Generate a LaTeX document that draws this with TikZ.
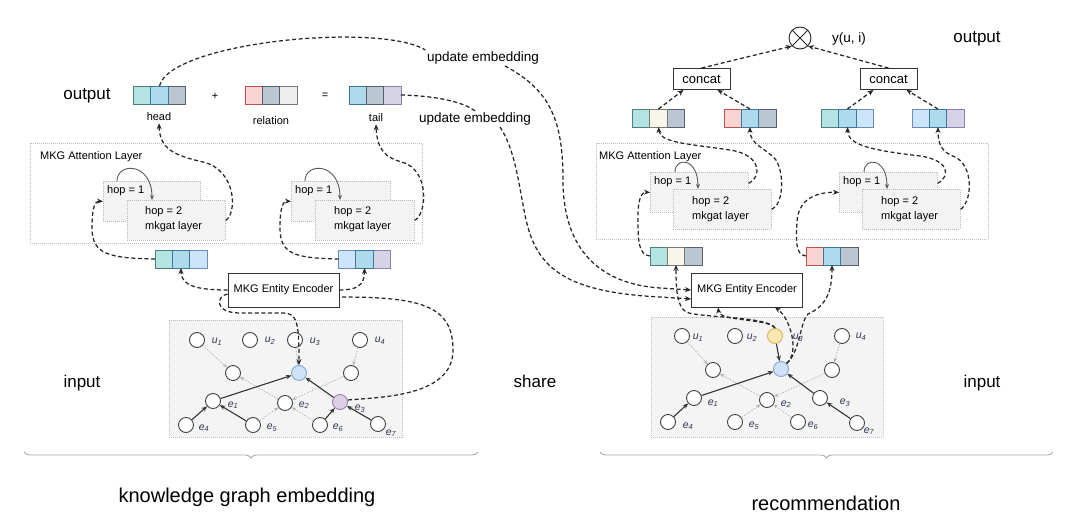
\documentclass[tikz,border=0pt]{standalone}
\usepackage{fontspec}
\setmainfont{Liberation Sans}
\usetikzlibrary{arrows.meta,decorations.pathreplacing,calc}
\definecolor{fteal}{HTML}{B4E4E1}\definecolor{bteal}{HTML}{4F7F7C}
\definecolor{flb}{HTML}{ADDAEC}\definecolor{blb}{HTML}{3E7896}
\definecolor{fgb}{HTML}{BAC7D2}\definecolor{bgb}{HTML}{55606B}
\definecolor{fpk}{HTML}{F8D4D2}\definecolor{bpk}{HTML}{C0504D}
\definecolor{flg}{HTML}{EEEEEE}\definecolor{blg}{HTML}{777777}
\definecolor{flav}{HTML}{D6D2E7}\definecolor{blav}{HTML}{8A82AE}
\definecolor{fvlb}{HTML}{CDE5FB}\definecolor{bvlb}{HTML}{6C8DB4}
\definecolor{fcr}{HTML}{F8F5EA}\definecolor{bcr}{HTML}{7A7A70}
\definecolor{boxgray}{HTML}{F3F3F3}
\definecolor{graphbg}{HTML}{F4F4F4}
\definecolor{lblc}{HTML}{2E3550}
\definecolor{fyel}{HTML}{FBE8B0}\definecolor{byel}{HTML}{D9B25A}
\definecolor{fblue}{HTML}{CFE2F8}\definecolor{bblue}{HTML}{7FA6D6}
\definecolor{fpur}{HTML}{DCD0E6}\definecolor{bpur}{HTML}{9A82B0}
\newcommand{\emb}[6]{%
 \node[cell,#4] (#1a) at ({#2-17.3},#3) {};
 \node[cell,#6] (#1c) at ({#2+17.3},#3) {};
 \node[cell,#5] (#1) at (#2,#3) {};}
\begin{document}
\begin{tikzpicture}[x=1pt,y=-1pt,
 cell/.style={draw, line width=0.9, minimum width=17.3, minimum height=18, inner sep=0, outer sep=0},
 ct/.style={fill=fteal, draw=bteal}, clb/.style={fill=flb, draw=blb},
 cgb/.style={fill=fgb, draw=bgb}, cpk/.style={fill=fpk, draw=bpk},
 clg/.style={fill=flg, draw=blg}, clav/.style={fill=flav, draw=blav},
 cvlb/.style={fill=fvlb, draw=bvlb}, ccr/.style={fill=fcr, draw=bcr},
 bigtxt/.style={font=\fontsize{17}{20}\selectfont, inner sep=1},
 midtxt/.style={font=\fontsize{13.5}{16}\selectfont, inner sep=1},
 smtxt/.style={font=\fontsize{11}{13}\selectfont, inner sep=2},
 titletxt/.style={font=\fontsize{20}{24}\selectfont, inner sep=1},
 uplbl/.style={font=\fontsize{13.5}{16}\selectfont, fill=white, inner sep=1.5},
 hopbox/.style={draw=gray!55, fill=boxgray, dash pattern=on 1pt off 1pt, line width=0.7, inner sep=0, anchor=north west},
 attbox/.style={draw=gray!50, dash pattern=on 1pt off 1pt, line width=0.6, inner sep=0, anchor=north west},
 gbox/.style={fill=graphbg, draw=gray!50, dash pattern=on 1pt off 1pt, line width=0.6, inner sep=0, anchor=north west},
 encbox/.style={draw=black!80, line width=0.9, fill=white, minimum width=111, minimum height=34, font=\fontsize{11}{13}\selectfont, inner sep=0},
 concatbox/.style={draw=black!80, line width=0.9, fill=white, minimum width=57, minimum height=21, font=\fontsize{13}{15}\selectfont, inner sep=0},
 gn/.style={circle, draw=black!75, line width=0.9, fill=white, minimum size=15, inner sep=0},
 glbl/.style={font=\fontsize{10.5}{12}\selectfont\itshape, text=lblc, inner sep=0},
 sedge/.style={line width=1.1, draw=black!80, -{Stealth[length=5.5pt,width=4.5pt]}},
 dedge/.style={line width=0.7, draw=gray!60, dash pattern=on 1.5pt off 1.5pt, -{Stealth[length=4.5pt,width=3.5pt]}},
 conn/.style={line width=1.25, draw=black!85, dash pattern=on 4pt off 2.6pt, -{Stealth[length=6pt,width=5pt]}},
 plainconn/.style={line width=1.25, draw=black!85, dash pattern=on 4pt off 2.6pt},
 loopar/.style={line width=0.9, draw=black!65, -{Stealth[length=5pt,width=4pt]}},
 bracest/.style={draw=gray!70, line width=0.8, decorate, decoration={brace, mirror, amplitude=6pt}}
]
\useasboundingbox (0,0) rectangle (1080,530);

%================ LEFT =================
\node[bigtxt] (outL) at (87,96) {output};
\emb{HD}{159.5}{95}{ct}{clb}{cgb}
\node[smtxt] (hdl) at (159,117) {head};
\node[smtxt] (plus) at (215,96) {+};
\emb{RL}{271}{95}{cpk}{cgb}{clg}
\node[smtxt] (rll) at (271,121) {relation};
\node[smtxt] (eq) at (325,96) {=};
\emb{TL}{375}{95}{clb}{cgb}{clav}
\node[smtxt] (tll) at (376,118) {tail};

\node[attbox, minimum width=392, minimum height=100] (ATT1) at (30,143) {};
\node[smtxt, anchor=west] (att1l) at (38,157) {MKG Attention Layer};
\node[hopbox, minimum width=97, minimum height=40] (L1h1) at (103,181) {};
\node[smtxt, anchor=west] (L1t1) at (105,191) {hop = 1};
\node[hopbox, minimum width=98, minimum height=40] (L1h2) at (127,200) {};
\node[smtxt, anchor=west] (L1t2) at (143,212) {hop = 2};
\node[smtxt, anchor=west] (L1t3) at (143,227) {mkgat layer};
\node[hopbox, minimum width=99, minimum height=40] (L2h1) at (291,181) {};
\node[smtxt, anchor=west] (L2t1) at (293,191) {hop = 1};
\node[hopbox, minimum width=99, minimum height=40] (L2h2) at (315,200) {};
\node[smtxt, anchor=west] (L2t2) at (332,212) {hop = 2};
\node[smtxt, anchor=west] (L2t3) at (332,227) {mkgat layer};
\draw[loopar] ([xshift=14]L1h1.north west) .. controls (117,162) and (152,162) .. ([xshift=25]L1h2.north west);
\draw[loopar] ([xshift=14]L2h1.north west) .. controls (305,162) and (340,162) .. ([xshift=25]L2h2.north west);

\emb{EL}{181}{259}{ct}{clb}{cvlb}
\emb{ER}{364.5}{259}{cvlb}{clb}{clav}
\node[encbox] (ENC1) at (283.5,290) {MKG Entity Encoder};

\node[gbox, minimum width=233, minimum height=117] (G1) at (169,320) {};
\node[gn] (LU1) at (197,340) {};
\node[gn] (LU2) at (250,340) {};
\node[gn] (LU3) at (295,340) {};
\node[gn] (LU4) at (360,340) {};
\node[gn] (LA) at (233,373) {};
\node[gn, fill=fblue, draw=bblue] (LB) at (299,373) {};
\node[gn] (LC) at (351,373) {};
\node[gn] (LE1) at (213,401) {};
\node[gn] (LE2) at (285,403) {};
\node[gn, fill=fpur, draw=bpur] (LE3) at (340,402) {};
\node[gn] (LE4) at (186,425) {};
\node[gn] (LE5) at (253,425) {};
\node[gn] (LE6) at (320,425) {};
\node[gn] (LE7) at (378,424) {};
\node[glbl] (lu1) at (217,342) {u\textsubscript{1}};
\node[glbl] (lu2) at (270,341) {u\textsubscript{2}};
\node[glbl] (lu3) at (315,342) {u\textsubscript{3}};
\node[glbl] (lu4) at (380,341) {u\textsubscript{4}};
\node[glbl] (le1) at (233,405) {e\textsubscript{1}};
\node[glbl] (le2) at (304,405) {e\textsubscript{2}};
\node[glbl] (le3) at (360,409) {e\textsubscript{3}};
\node[glbl] (le4) at (204,428) {e\textsubscript{4}};
\node[glbl] (le5) at (272,428) {e\textsubscript{5}};
\node[glbl] (le6) at (338,428) {e\textsubscript{6}};
\node[glbl] (le7) at (391,433) {e\textsubscript{7}};
\draw[dedge] (LU1) -- (LA);
\draw[dedge] (LU3) -- (LB);
\draw[dedge] (LU4) -- (LC);
\draw[dedge] (LE2) -- (LA);
\draw[dedge] (LC) -- (LE2);
\draw[dedge] (LE5) -- (LE2);
\draw[dedge] (LE6) -- (LE2);
\draw[sedge] (LE4) -- (LE1);
\draw[sedge] (LE5) -- (LE1);
\draw[sedge] (LE1) -- (LB);
\draw[sedge] (LE3) -- (LB);
\draw[sedge] (LE6) -- (LE3);
\draw[sedge] (LE7) -- (LE3);

% left dashed connectors
\draw[conn] (ENC1.west) .. controls (198,290) and (181,286) .. (EL.south);
\draw[conn] (ENC1.east) .. controls (356,290) and (364.5,286) .. (ER.south);
\draw[conn] ([yshift=-4]ENC1.west) .. controls (216,296) and (214,313) .. (240,313) -- (283,313) .. controls (297,313) and (299,322) .. (LB.north);
\draw[plainconn] ([yshift=2]LE3.east) .. controls (380,397) and (453,397) .. (453,350) .. controls (453,305) and (420,297) .. ([yshift=-7]ENC1.east);
\draw[conn] (ELa.west) .. controls (110,258) and (92,255) .. (92,228) .. controls (92,207) and (95,201) .. (L1h1.west);
\draw[conn] (L1h2.east) .. controls (237,214) and (237,170) .. (203,162) .. controls (172,155) and (160,148) .. (hdl.south);
\draw[conn] (ERa.west) .. controls (296,258) and (280,255) .. (280,228) .. controls (280,207) and (283,201) .. (L2h1.west);
\draw[conn] (L2h2.east) .. controls (427,214) and (430,170) .. (402,162) .. controls (386,158) and (377,150) .. (tll.south);

%================ MIDDLE =================
\node[uplbl] (UE1) at (483,58) {update embedding};
\node[uplbl] (UE2) at (475,119) {update embedding};
\node[bigtxt] (share) at (535,381) {share};

%================ RIGHT =================
\node[bigtxt] (outR) at (977,39) {output};
\node[circle, draw=black!85, line width=0.9, minimum size=22, inner sep=0] (OT) at (800,38) {};
\draw[line width=0.9, black!85] (OT.north east) -- (OT.south west);
\draw[line width=0.9, black!85] (OT.north west) -- (OT.south east);
\node[midtxt] (yui) at (849,39) {y(u, i)};
\node[concatbox] (CL) at (701.5,79) {concat};
\node[concatbox] (CR) at (888.5,79) {concat};
\emb{TP1}{658.5}{118}{ct}{ccr}{cgb}
\emb{TP2}{750}{118}{cpk}{clb}{cgb}
\emb{TP3}{847.5}{118}{ct}{clb}{cvlb}
\emb{TP4}{938}{118}{cvlb}{clb}{clav}
\draw[conn] (TP1.north) -- ([xshift=-18]CL.south);
\draw[conn] (TP2.north) -- ([xshift=16]CL.south);
\draw[conn] (TP3.north) -- ([xshift=-15]CR.south);
\draw[conn] (TP4.north) -- ([xshift=18]CR.south);
\draw[conn] (CL.north) -- (OT.south west);
\draw[conn] (CR.north) -- (OT.south east);

\node[attbox, minimum width=392, minimum height=96] (ATT2) at (596,143) {};
\node[smtxt, anchor=west] (att2l) at (597,157) {MKG Attention Layer};
\node[hopbox, minimum width=98, minimum height=40] (R1h1) at (650,172) {};
\node[smtxt, anchor=west] (R1t1) at (652,182) {hop = 1};
\node[hopbox, minimum width=98, minimum height=40] (R1h2) at (673,189) {};
\node[smtxt, anchor=west] (R1t2) at (690,202) {hop = 2};
\node[smtxt, anchor=west] (R1t3) at (690,217) {mkgat layer};
\node[hopbox, minimum width=98, minimum height=40] (R2h1) at (839,172) {};
\node[smtxt, anchor=west] (R2t1) at (841,182) {hop = 1};
\node[hopbox, minimum width=98, minimum height=40] (R2h2) at (862,189) {};
\node[smtxt, anchor=west] (R2t2) at (879,202) {hop = 2};
\node[smtxt, anchor=west] (R2t3) at (879,217) {mkgat layer};
\draw[loopar] ([xshift=25]R1h1.north west) .. controls (675,157) and (698,157) .. ([xshift=25]R1h2.north west);
\draw[loopar] ([xshift=25]R2h1.north west) .. controls (864,157) and (887,157) .. ([xshift=25]R2h2.north west);

\emb{EM1}{676}{256}{ct}{ccr}{cgb}
\emb{EM2}{832}{256}{cpk}{clb}{cgb}
\node[encbox] (ENC2) at (747,290) {MKG Entity Encoder};

\node[gbox, minimum width=232, minimum height=120] (G2) at (651,317) {};
\node[gn] (RU1) at (682,336) {};
\node[gn] (RU2) at (735,336) {};
\node[gn, fill=fyel, draw=byel] (RU3) at (775,336) {};
\node[gn] (RU4) at (842,336) {};
\node[gn] (RA) at (713,370) {};
\node[gn, fill=fblue, draw=bblue] (RB) at (781,369) {};
\node[gn] (RC) at (832,370) {};
\node[gn] (RE1) at (694,398) {};
\node[gn] (RE2) at (767,400) {};
\node[gn] (RE3) at (820,398) {};
\node[gn] (RE4) at (668,422) {};
\node[gn] (RE5) at (735,422) {};
\node[gn] (RE6) at (798,422) {};
\node[gn] (RE7) at (857,423) {};
\node[glbl] (ru1) at (698,338) {u\textsubscript{1}};
\node[glbl] (ru2) at (752,338) {u\textsubscript{2}};
\node[glbl] (ru3) at (798,338) {u\textsubscript{3}};
\node[glbl] (ru4) at (861,337) {u\textsubscript{4}};
\node[glbl] (re1) at (713,403) {e\textsubscript{1}};
\node[glbl] (re2) at (786,404) {e\textsubscript{2}};
\node[glbl] (re3) at (845,403) {e\textsubscript{3}};
\node[glbl] (re4) at (688,426) {e\textsubscript{4}};
\node[glbl] (re5) at (754,426) {e\textsubscript{5}};
\node[glbl] (re6) at (813,426) {e\textsubscript{6}};
\node[glbl] (re7) at (869,431) {e\textsubscript{7}};
\draw[dedge] (RU1) -- (RA);
\draw[dedge] (RU4) -- (RC);
\draw[dedge] (RE2) -- (RA);
\draw[dedge] (RC) -- (RE2);
\draw[dedge] (RE5) -- (RE2);
\draw[dedge] (RE6) -- (RE2);
\draw[sedge] (RU3) -- (RB);
\draw[sedge] (RE1) -- (RB);
\draw[sedge] (RE3) -- (RB);
\draw[sedge] (RE4) -- (RE1);
\draw[sedge] (RE7) -- (RE3);

% right dashed connectors
\draw[conn] (EM1a.west) .. controls (638,255) and (638,240) .. (638,216) .. controls (638,198) and (642,192) .. (R1h1.west);
\draw[conn] (EM2a.west) .. controls (795,255) and (796,240) .. (797,222) .. controls (798,200) and (815,192) .. (R2h1.west);
\draw[conn] ([yshift=9]R1h1.east) .. controls (761,178) and (763,155) .. (730,150) .. controls (690,144) and (660,143) .. (TP1.south);
\draw[conn] (R1h2.east) .. controls (783,205) and (785,175) .. (776,160) .. controls (766,148) and (750,145) .. (TP2.south);
\draw[conn] ([yshift=9]R2h1.east) .. controls (951,176) and (949,160) .. (920,156) .. controls (870,150) and (848,145) .. (TP3.south);
\draw[conn] (R2h2.east) .. controls (973,200) and (973,165) .. (955,157) .. controls (942,152) and (938,145) .. (TP4.south);

\draw[conn] (RU3.north) .. controls (768,316) and (700,318) .. (686,312) .. controls (677,306) and (676,290) .. (EM1.south);
\draw[conn] (RU3.north) .. controls (768,318) and (720,322) .. ([xshift=-29]ENC2.south);
\draw[conn] (RB.north east) .. controls (800,352) and (800,322) .. (808,314) .. controls (826,306) and (832,292) .. (EM2.south);
\draw[conn] (RB.north east) .. controls (800,352) and (790,318) .. ([xshift=28]ENC2.south);

% long update curves
\draw[plainconn] (HD.north) .. controls (170,42) and (380,22) .. (UE1.north west);
\draw[conn] ([xshift=22]UE1.south) .. controls (550,90) and (563,120) .. (563,180) .. controls (563,250) and (600,284) .. (660,288) -- (ENC2.west);
\draw[plainconn] (TLc.east) .. controls (440,96) and (465,103) .. (UE2.north);
\draw[conn] ([xshift=25]UE2.south) .. controls (515,150) and (518,180) .. (525,215) .. controls (535,265) and (560,292) .. (660,297) -- ([yshift=-9]ENC2.west);

%================ BOTTOM =================
\node[bigtxt] (inL) at (82,383) {input};
\node[bigtxt] (inR) at (982,383) {input};
\coordinate (bl1) at (24,452); \coordinate (bl2) at (478,452);
\coordinate (br1) at (600,452); \coordinate (br2) at (1053,452);
\draw[bracest] (bl1) -- (bl2);
\draw[bracest] (br1) -- (br2);
\node[titletxt] (kge) at (247,497) {knowledge graph embedding};
\node[titletxt] (rec) at (826,503) {recommendation};
\end{tikzpicture}
\end{document}
